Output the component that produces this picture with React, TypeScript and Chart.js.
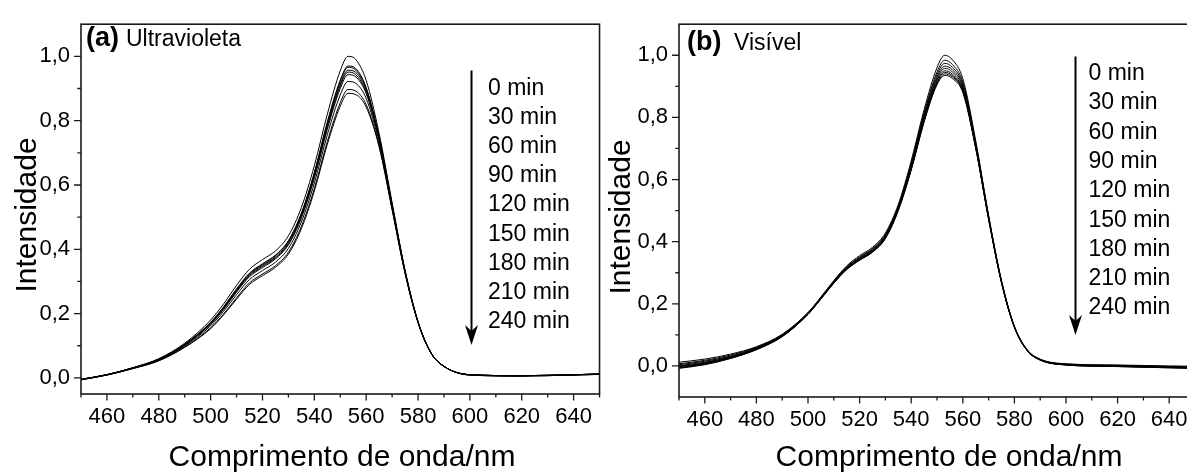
import React, { useEffect, useRef } from 'react';
import { Chart, registerables } from 'chart.js';

Chart.register(...registerables);

// ---------- data ----------
const WAVELENGTHS = [450, 460, 470, 480, 490, 500, 505, 510, 515, 520, 525, 530, 535, 540, 545, 550, 553, 556, 560, 565, 570, 575, 580, 585, 590, 600, 620, 640, 650];

const TIME_LABELS = ['0 min', '30 min', '60 min', '90 min', '120 min', '150 min', '180 min', '210 min', '240 min'];

// (a) Ultravioleta
const UV_0 = [-0.004, 0.010, 0.032, 0.060, 0.108, 0.180, 0.230, 0.288, 0.338, 0.368, 0.395, 0.442, 0.530, 0.660, 0.820, 0.955, 1.000, 0.990, 0.925, 0.760, 0.545, 0.335, 0.175, 0.078, 0.036, 0.010, 0.007, 0.010, 0.012];
const UV_30 = [-0.004, 0.010, 0.031, 0.058, 0.105, 0.173, 0.221, 0.277, 0.326, 0.355, 0.382, 0.427, 0.513, 0.639, 0.796, 0.926, 0.970, 0.962, 0.903, 0.749, 0.539, 0.332, 0.174, 0.078, 0.036, 0.010, 0.007, 0.010, 0.012];
const UV_60 = [-0.005, 0.010, 0.031, 0.058, 0.104, 0.172, 0.220, 0.275, 0.324, 0.353, 0.380, 0.425, 0.510, 0.636, 0.792, 0.922, 0.966, 0.957, 0.900, 0.747, 0.538, 0.332, 0.174, 0.078, 0.036, 0.010, 0.007, 0.010, 0.012];
const UV_90 = [-0.005, 0.010, 0.031, 0.057, 0.103, 0.170, 0.217, 0.272, 0.321, 0.350, 0.376, 0.421, 0.506, 0.631, 0.785, 0.914, 0.957, 0.950, 0.894, 0.744, 0.537, 0.331, 0.174, 0.078, 0.036, 0.010, 0.007, 0.010, 0.012];
const UV_120 = [-0.005, 0.010, 0.031, 0.057, 0.102, 0.168, 0.215, 0.270, 0.318, 0.347, 0.373, 0.417, 0.502, 0.626, 0.780, 0.908, 0.951, 0.943, 0.889, 0.742, 0.536, 0.331, 0.174, 0.078, 0.036, 0.010, 0.007, 0.010, 0.012];
const UV_150 = [-0.005, 0.010, 0.031, 0.057, 0.102, 0.167, 0.213, 0.267, 0.315, 0.343, 0.370, 0.414, 0.497, 0.621, 0.773, 0.900, 0.943, 0.936, 0.884, 0.739, 0.534, 0.330, 0.174, 0.078, 0.036, 0.010, 0.007, 0.010, 0.012];
const UV_180 = [-0.005, 0.009, 0.030, 0.055, 0.099, 0.162, 0.207, 0.259, 0.306, 0.334, 0.360, 0.403, 0.485, 0.606, 0.756, 0.880, 0.922, 0.916, 0.869, 0.731, 0.530, 0.328, 0.173, 0.077, 0.036, 0.009, 0.006, 0.009, 0.011];
const UV_210 = [-0.006, 0.009, 0.029, 0.054, 0.096, 0.156, 0.199, 0.249, 0.296, 0.323, 0.349, 0.391, 0.471, 0.589, 0.735, 0.856, 0.897, 0.892, 0.850, 0.722, 0.525, 0.326, 0.172, 0.077, 0.036, 0.009, 0.006, 0.009, 0.011];
const UV_240 = [-0.006, 0.009, 0.029, 0.053, 0.095, 0.153, 0.196, 0.245, 0.291, 0.318, 0.344, 0.385, 0.464, 0.581, 0.726, 0.845, 0.885, 0.881, 0.842, 0.718, 0.523, 0.325, 0.172, 0.077, 0.036, 0.009, 0.006, 0.009, 0.011];

// (b) Visível
const VIS_0 = [0.012, 0.022, 0.038, 0.062, 0.102, 0.172, 0.222, 0.275, 0.322, 0.355, 0.382, 0.428, 0.520, 0.660, 0.825, 0.960, 1.000, 0.985, 0.925, 0.725, 0.485, 0.275, 0.128, 0.052, 0.022, 0.007, 0.003, 0.000, -0.001];
const VIS_30 = [0.007, 0.018, 0.035, 0.060, 0.100, 0.171, 0.220, 0.273, 0.319, 0.351, 0.378, 0.424, 0.515, 0.653, 0.815, 0.946, 0.984, 0.970, 0.914, 0.719, 0.482, 0.273, 0.127, 0.051, 0.021, 0.006, 0.002, -0.002, -0.003];
const VIS_60 = [0.004, 0.015, 0.032, 0.058, 0.099, 0.170, 0.219, 0.271, 0.317, 0.349, 0.376, 0.421, 0.512, 0.648, 0.809, 0.938, 0.974, 0.961, 0.907, 0.715, 0.480, 0.272, 0.126, 0.051, 0.021, 0.005, 0.001, -0.002, -0.004];
const VIS_90 = [0.001, 0.012, 0.030, 0.057, 0.098, 0.169, 0.218, 0.270, 0.316, 0.347, 0.373, 0.418, 0.509, 0.644, 0.803, 0.930, 0.965, 0.953, 0.901, 0.711, 0.478, 0.271, 0.126, 0.050, 0.020, 0.005, 0.000, -0.003, -0.005];
const VIS_120 = [-0.001, 0.010, 0.029, 0.056, 0.097, 0.168, 0.217, 0.269, 0.314, 0.345, 0.372, 0.416, 0.507, 0.641, 0.799, 0.924, 0.958, 0.946, 0.896, 0.709, 0.477, 0.270, 0.125, 0.050, 0.020, 0.004, 0.000, -0.004, -0.006];
const VIS_150 = [-0.003, 0.008, 0.027, 0.054, 0.096, 0.167, 0.217, 0.268, 0.313, 0.343, 0.370, 0.414, 0.505, 0.637, 0.794, 0.918, 0.950, 0.939, 0.890, 0.706, 0.475, 0.270, 0.125, 0.050, 0.020, 0.004, -0.001, -0.005, -0.006];
const VIS_180 = [-0.005, 0.007, 0.026, 0.054, 0.095, 0.167, 0.216, 0.267, 0.312, 0.342, 0.368, 0.413, 0.503, 0.634, 0.791, 0.913, 0.945, 0.934, 0.887, 0.704, 0.474, 0.269, 0.125, 0.049, 0.019, 0.004, -0.001, -0.005, -0.007];
const VIS_210 = [-0.006, 0.005, 0.025, 0.053, 0.095, 0.166, 0.216, 0.267, 0.311, 0.341, 0.367, 0.411, 0.502, 0.632, 0.788, 0.909, 0.940, 0.930, 0.884, 0.702, 0.473, 0.268, 0.124, 0.049, 0.019, 0.003, -0.002, -0.006, -0.007];
const VIS_240 = [-0.008, 0.004, 0.024, 0.052, 0.094, 0.166, 0.215, 0.266, 0.310, 0.340, 0.366, 0.410, 0.500, 0.630, 0.785, 0.905, 0.935, 0.925, 0.880, 0.700, 0.472, 0.268, 0.124, 0.049, 0.019, 0.003, -0.002, -0.006, -0.008];

const UV_SERIES = [UV_0, UV_30, UV_60, UV_90, UV_120, UV_150, UV_180, UV_210, UV_240];
const VIS_SERIES = [VIS_0, VIS_30, VIS_60, VIS_90, VIS_120, VIS_150, VIS_180, VIS_210, VIS_240];

const X_MAJOR_TICKS = [460, 480, 500, 520, 540, 560, 580, 600, 620, 640];
const X_MINOR_TICKS = [450, 470, 490, 510, 530, 550, 570, 590, 610, 630, 650];
const Y_MAJOR_TICKS = [0, 0.2, 0.4, 0.6, 0.8, 1.0];
const Y_MINOR_TICKS = [0.1, 0.3, 0.5, 0.7, 0.9];

const X_TITLE = 'Comprimento de onda/nm';
const Y_TITLE = 'Intensidade';

// ---------- layout ----------
const FONT = '"Liberation Sans", Arial, Helvetica, sans-serif';
const INK = '#000';
const FRAME = '#1a1a1a';

type Panel = {
  left: number; width: number; height: number;
  yAxisWidth: number; padTop: number; padRight: number; xAxisHeight: number;
  yMin: number; yMax: number;
  series: number[][];
  tag: string; subtitle: string; tagX: number; subX: number; tagBaseline: number;
  arrowX: number; arrowTop: number; arrowTip: number;
  legendX: number; legendBaseline0: number; legendStep: number;
  yTitleX: number; yTitleY: number; xTitleX: number; xTitleBaseline: number;
};

const PANELS: Panel[] = [
  {
    left: 0, width: 602, height: 474,
    yAxisWidth: 81, padTop: 15, padRight: 1, xAxisHeight: 80,
    yMin: -0.05, yMax: 1.1,
    series: UV_SERIES,
    tag: '(a)', subtitle: 'Ultravioleta', tagX: 86, subX: 126, tagBaseline: 46,
    arrowX: 471.5, arrowTop: 70.5, arrowTip: 345,
    legendX: 488, legendBaseline0: 94.5, legendStep: 29.2,
    yTitleX: 36, yTitleY: 215, xTitleX: 342, xTitleBaseline: 466,
  },
  {
    left: 601, width: 600, height: 474,
    yAxisWidth: 78, padTop: 17, padRight: 6, xAxisHeight: 77,
    yMin: -0.1, yMax: 1.1,
    series: VIS_SERIES,
    tag: '(b)', subtitle: 'Visível', tagX: 86, subX: 133, tagBaseline: 49.5,
    arrowX: 474.5, arrowTop: 56.5, arrowTip: 335,
    legendX: 487.5, legendBaseline0: 80, legendStep: 29.3,
    yTitleX: 29, yTitleY: 217, xTitleX: 348, xTitleBaseline: 466,
  },
];

function decorPlugin(p: Panel) {
  return {
    id: 'decor',
    afterDraw(chart: any) {
      const ctx = chart.ctx as CanvasRenderingContext2D;
      const a = chart.chartArea;
      const xs = chart.scales.x;
      const ys = chart.scales.y;
      ctx.save();
      // frame
      ctx.strokeStyle = FRAME;
      ctx.lineWidth = 1.6;
      ctx.strokeRect(a.left, a.top, a.right - a.left, a.bottom - a.top);
      // ticks
      ctx.lineWidth = 1.3;
      ctx.beginPath();
      X_MAJOR_TICKS.forEach((v) => {
        const x = xs.getPixelForValue(v);
        ctx.moveTo(x, a.bottom); ctx.lineTo(x, a.bottom + 6.5);
      });
      X_MINOR_TICKS.forEach((v) => {
        const x = xs.getPixelForValue(v);
        ctx.moveTo(x, a.bottom); ctx.lineTo(x, a.bottom + 3.5);
      });
      Y_MAJOR_TICKS.forEach((v) => {
        const y = ys.getPixelForValue(v);
        ctx.moveTo(a.left, y); ctx.lineTo(a.left - 7, y);
      });
      Y_MINOR_TICKS.forEach((v) => {
        const y = ys.getPixelForValue(v);
        ctx.moveTo(a.left, y); ctx.lineTo(a.left - 3.7, y);
      });
      ctx.stroke();

      // arrow
      ctx.strokeStyle = INK;
      ctx.fillStyle = INK;
      ctx.lineWidth = 2;
      ctx.beginPath();
      ctx.moveTo(p.arrowX, p.arrowTop);
      ctx.lineTo(p.arrowX, p.arrowTip - 12);
      ctx.stroke();
      ctx.beginPath();
      ctx.moveTo(p.arrowX, p.arrowTip);
      ctx.lineTo(p.arrowX - 6.5, p.arrowTip - 20);
      ctx.lineTo(p.arrowX, p.arrowTip - 14);
      ctx.lineTo(p.arrowX + 6.5, p.arrowTip - 20);
      ctx.closePath();
      ctx.fill();

      // legend text
      ctx.font = `23px ${FONT}`;
      ctx.textAlign = 'left';
      ctx.textBaseline = 'alphabetic';
      TIME_LABELS.forEach((t, i) => {
        ctx.fillText(t, p.legendX, p.legendBaseline0 + i * p.legendStep);
      });

      // panel label
      ctx.font = `bold 27px ${FONT}`;
      ctx.fillText(p.tag, p.tagX, p.tagBaseline);
      ctx.font = `23px ${FONT}`;
      ctx.fillText(p.subtitle, p.subX, p.tagBaseline);

      // axis titles
      ctx.font = `30px ${FONT}`;
      ctx.textAlign = 'center';
      ctx.fillText(X_TITLE, p.xTitleX, p.xTitleBaseline);
      ctx.save();
      ctx.translate(p.yTitleX, p.yTitleY);
      ctx.rotate(-Math.PI / 2);
      ctx.fillText(Y_TITLE, 0, 0);
      ctx.restore();

      ctx.restore();
    },
  };
}

function PanelChart({ p }: { p: Panel }) {
  const ref = useRef<HTMLCanvasElement | null>(null);
  useEffect(() => {
    if (!ref.current) return;
    const datasets = p.series.map((arr, k) => ({
      label: TIME_LABELS[k],
      data: WAVELENGTHS.map((x, i) => ({ x, y: arr[i] })),
      borderColor: INK,
      borderWidth: 1,
      pointRadius: 0,
      fill: false,
      cubicInterpolationMode: 'monotone' as const,
    }));
    const chart = new Chart(ref.current, {
      type: 'line',
      data: { datasets },
      options: {
        responsive: false,
        animation: false,
        layout: { padding: { left: 0, top: p.padTop, right: p.padRight, bottom: 0 } },
        plugins: { legend: { display: false }, tooltip: { enabled: false } },
        scales: {
          x: {
            type: 'linear',
            min: 450,
            max: 650,
            grid: { display: false, drawTicks: false },
            border: { display: false },
            afterBuildTicks: (s: any) => { s.ticks = X_MAJOR_TICKS.map((v) => ({ value: v })); },
            afterFit: (s: any) => { s.height = p.xAxisHeight; },
            ticks: {
              autoSkip: false,
              maxRotation: 0,
              padding: 10,
              color: INK,
              font: { family: FONT, size: 22 },
              callback: (v: any) => String(v),
            },
          },
          y: {
            type: 'linear',
            min: p.yMin,
            max: p.yMax,
            grid: { display: false, drawTicks: false },
            border: { display: false },
            afterBuildTicks: (s: any) => { s.ticks = Y_MAJOR_TICKS.map((v) => ({ value: v })); },
            afterFit: (s: any) => { s.width = p.yAxisWidth; },
            ticks: {
              autoSkip: false,
              padding: 11,
              color: INK,
              font: { family: FONT, size: 22 },
              callback: (v: any) => Number(v).toFixed(1).replace('.', ','),
            },
          },
        },
      },
      plugins: [decorPlugin(p)],
    } as any);
    return () => chart.destroy();
  }, [p]);
  return (
    <div style={{ position: 'absolute', left: p.left, top: 0, width: p.width, height: p.height }}>
      <canvas ref={ref} width={p.width} height={p.height} style={{ display: 'block', width: p.width, height: p.height }} />
    </div>
  );
}

export default function App() {
  return (
    <div style={{ position: 'absolute', left: 0, top: 0, width: 1187, height: 474, overflow: 'hidden', background: '#fff' }}>
      {PANELS.map((p, i) => (
        <PanelChart key={i} p={p} />
      ))}
    </div>
  );
}
